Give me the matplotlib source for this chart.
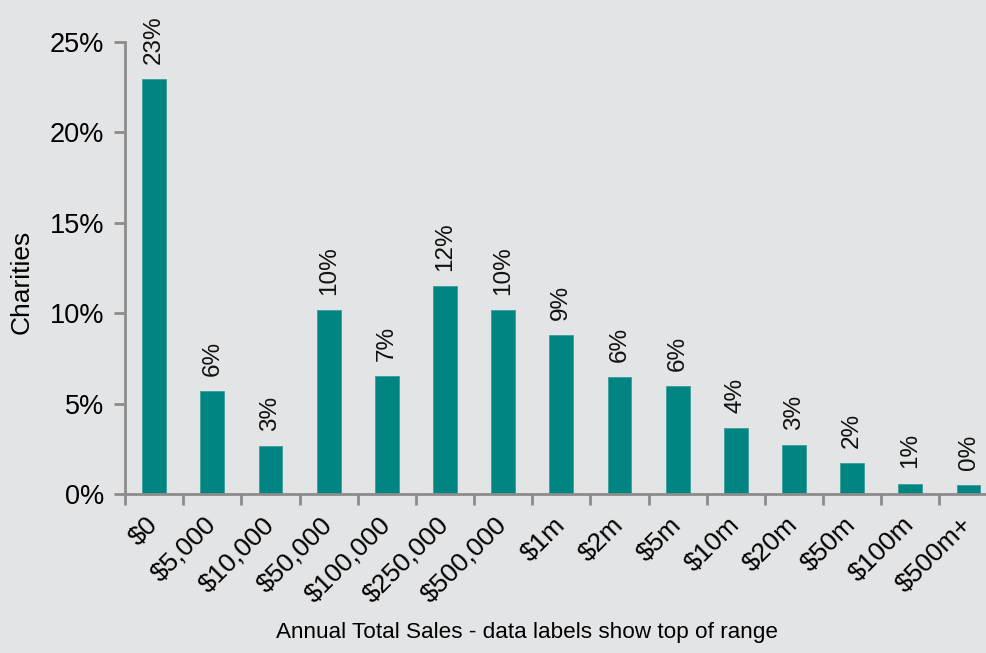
import numpy as np
import matplotlib
matplotlib.use('Agg')
import matplotlib.pyplot as plt
from matplotlib.ticker import FuncFormatter

categories = ['$0', '$5,000', '$10,000', '$50,000', '$100,000', '$250,000', '$500,000',
              '$1m', '$2m', '$5m', '$10m', '$20m', '$50m', '$100m', '$500m+']
shares = [22.95, 5.7, 2.65, 10.18, 6.53, 11.5, 10.18, 8.8, 6.47, 5.97, 3.65, 2.7, 1.71, 0.57, 0.48]

bg = '#e3e4e6'
teal = '#008583'
axis_grey = '#8c8c8c'

plt.rcParams['font.family'] = ['Liberation Sans', 'DejaVu Sans']

fig = plt.figure(figsize=(9.86, 6.53), dpi=100, facecolor=bg)
ax = fig.add_axes([0.1268, 0.2435, 0.885, 0.692], facecolor=bg)

x = np.arange(len(categories))
bars = ax.bar(x, shares, width=0.41, color=teal, edgecolor='#3a9d9b', linewidth=0.6)

for xi, v in zip(x, shares):
    ax.annotate('%d%%' % round(v), (xi, v), xytext=(0, 11), textcoords='offset points',
                rotation=90, ha='center', va='bottom', fontsize=17.5, color='#111111')

ax.set_xlim(-0.5, len(categories) - 0.5)
ax.set_ylim(0, 25)
ax.set_yticks([0, 5, 10, 15, 20, 25])
ax.yaxis.set_major_formatter(FuncFormatter(lambda v, p: '%d%%' % v))

ax.set_xticks(x)
ax.set_xticklabels(categories, rotation=45, ha='right', va='center', rotation_mode='anchor', fontsize=19)
ax.set_xticks(np.arange(-0.5, len(categories), 1.0), minor=True)
ax.tick_params(axis='x', which='major', length=0, pad=19.5)
ax.tick_params(axis='x', which='minor', length=8, width=2, color=axis_grey, direction='out')
ax.tick_params(axis='y', length=8, width=2, color=axis_grey, direction='out', labelsize=19.5, pad=7)

for side in ['top', 'right']:
    ax.spines[side].set_visible(False)
for side in ['left', 'bottom']:
    ax.spines[side].set_color(axis_grey)
    ax.spines[side].set_linewidth(2)

fig.text(22 / 986, 0.568, 'Charities', rotation=90, ha='center', va='center', fontsize=19)
fig.text(0.534, 0.031, 'Annual Total Sales - data labels show top of range', ha='center', va='center', fontsize=16.2)

fig.savefig('out.png', dpi=100, facecolor=bg)
